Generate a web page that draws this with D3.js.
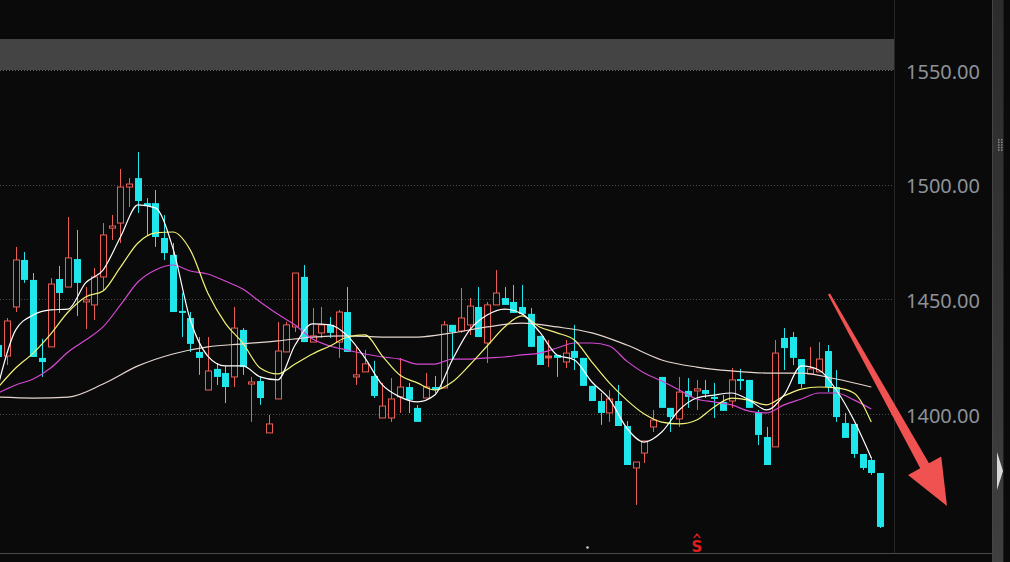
<!DOCTYPE html>
<html><head><meta charset="utf-8">
<script src="https://cdn.jsdelivr.net/npm/d3@7"></script>
<style>html,body{margin:0;padding:0;background:#0a0a0a;overflow:hidden}</style>
</head><body><svg id="c" width="1010" height="562"></svg>
<script>
// ---------- DATA ----------
const days = d3.range(1, 103).map(d => "D" + d);
const opens = [1430.5,1425.7,1447.1,1467.6,1458.9,1424.9,1429.7,1459.3,1455.8,1468.0,
 1449.3,1448.0,1460.2,1481.5,1483.7,1499.4,1503.3,1492.4,1492.4,1477.2,
 1469.8,1445.4,1442.3,1427.5,1410.9,1420.1,1418.3,1416.6,1437.1,1413.5,
 1414.8,1392.2,1407.0,1427.5,1438.4,1460.2,1431.8,1435.8,1439.3,1431.8,
 1444.9,1416.6,1418.8,1417.0,1398.7,1398.7,1407.9,1412.2,1403.1,1407.4,
 1412.2,1411.8,1439.3,1436.6,1439.3,1447.1,1431.4,1448.0,1451.0,1449.3,
 1447.1,1444.1,1434.5,1424.9,1426.2,1423.1,1427.9,1424.9,1412.7,1406.1,
 1400.9,1406.1,1395.2,1376.9,1383.4,1394.8,1416.6,1403.1,1398.3,1410.5,
 1410.5,1410.9,1407.9,1405.7,1406.1,1415.7,1415.3,1400.9,1390.4,1386.1,
 1433.6,1434.0,1424.4,1417.9,1418.8,1427.9,1412.2,1396.5,1396.1,1383.0,
 1380.4,1374.7];
const closes = [1425.3,1441.0,1467.6,1458.9,1425.3,1423.1,1457.1,1453.2,1468.5,1457.6,
 1450.2,1460.2,1478.5,1482.4,1499.4,1500.7,1493.3,1491.1,1477.6,1470.6,
 1444.9,1444.5,1431.0,1424.9,1419.2,1416.6,1412.2,1437.9,1420.9,1414.4,
 1407.4,1396.1,1427.9,1439.3,1461.9,1431.8,1434.5,1439.3,1435.8,1444.9,
 1427.5,1417.5,1422.3,1408.3,1403.9,1407.0,1412.2,1406.6,1397.0,1412.2,
 1410.9,1439.3,1436.2,1442.3,1447.5,1434.0,1448.0,1453.2,1448.0,1444.5,
 1444.1,1429.7,1421.8,1425.7,1424.9,1427.0,1424.9,1412.7,1406.1,1400.9,
 1407.0,1395.2,1378.2,1379.5,1388.7,1397.8,1403.1,1399.1,1410.0,1407.9,
 1411.4,1409.2,1407.0,1401.8,1415.3,1414.8,1403.1,1391.3,1378.2,1427.0,
 1429.2,1424.9,1413.5,1420.1,1424.4,1412.2,1399.1,1390.0,1383.0,1376.9,
 1374.7,1351.2];
const highs = [1432.7,1442.3,1473.3,1471.1,1461.9,1433.2,1459.7,1465.0,1486.3,1480.7,
 1455.8,1464.1,1483.7,1487.2,1507.3,1503.3,1514.7,1494.6,1498.1,1487.2,
 1475.0,1453.2,1444.9,1434.0,1434.0,1422.7,1421.4,1447.1,1437.9,1416.6,
 1416.6,1400.0,1440.6,1440.6,1461.9,1465.4,1446.7,1447.1,1442.7,1445.8,
 1455.8,1429.7,1428.4,1423.6,1414.0,1416.1,1424.9,1414.0,1404.4,1418.3,
 1417.0,1441.0,1439.3,1455.4,1451.0,1455.8,1449.3,1463.2,1455.8,1456.7,
 1456.7,1446.7,1434.5,1432.7,1426.2,1432.7,1439.3,1424.9,1412.7,1409.6,
 1410.9,1413.1,1397.4,1379.5,1388.7,1402.2,1416.6,1403.1,1416.6,1416.1,
 1415.3,1415.3,1414.0,1408.7,1420.5,1420.1,1415.3,1402.2,1394.8,1432.7,
 1437.9,1436.2,1424.4,1429.7,1431.8,1430.5,1419.6,1400.9,1396.1,1383.0,
 1381.7,1374.7];
const lows = [1423.1,1421.8,1444.9,1457.6,1425.3,1416.6,1429.7,1444.5,1455.8,1443.2,
 1437.5,1441.4,1454.5,1476.3,1475.0,1490.7,1488.1,1478.5,1473.3,1467.6,
 1444.9,1434.0,1427.5,1417.5,1410.9,1413.1,1405.2,1412.2,1417.5,1397.0,
 1404.4,1392.2,1407.0,1427.5,1436.2,1431.8,1431.8,1433.6,1433.6,1424.9,
 1427.5,1413.1,1418.8,1407.4,1398.7,1397.0,1400.9,1400.9,1397.0,1407.4,
 1409.6,1411.8,1424.0,1435.8,1434.9,1434.0,1422.7,1448.0,1448.0,1444.5,
 1444.1,1429.7,1421.8,1420.9,1416.6,1420.5,1419.6,1412.7,1406.1,1395.7,
 1397.0,1395.2,1378.2,1360.8,1379.1,1392.6,1403.1,1392.6,1394.8,1403.1,
 1402.2,1407.4,1398.7,1401.8,1403.1,1410.9,1403.1,1386.9,1378.2,1386.1,
 1419.6,1421.8,1411.8,1417.9,1418.8,1410.0,1397.0,1390.0,1381.3,1376.0,
 1373.9,1350.7];

// moving-average lines (every 2nd day; MA60 every 4th day)
const ma5 = [1413.1,1437.1,1443.6,1445.8,1446.2,1457.6,1463.2,1477.6,1491.6,1490.3,
 1472.8,1441.4,1425.7,1421.4,1421.4,1416.6,1415.3,1430.5,1439.7,1439.3,
 1434.5,1424.9,1413.1,1407.9,1405.7,1408.7,1424.0,1437.1,1443.6,1446.2,
 1444.1,1436.2,1426.2,1424.0,1414.4,1407.0,1394.3,1388.2,1392.6,1402.2,
 1407.4,1408.7,1409.6,1406.6,1402.2,1408.7,1421.4,1419.6,1410.9,1397.8,1381.3];
const ma10 = [1412.2,1420.5,1427.0,1435.3,1444.9,1451.5,1454.1,1464.5,1475.0,1479.4,
 1479.8,1471.9,1453.2,1440.1,1431.4,1420.5,1417.9,1422.2,1426.6,1430.1,
 1434.0,1434.9,1425.7,1417.4,1414.0,1410.9,1414.4,1421.8,1430.1,1438.4,
 1443.2,1438.4,1435.8,1432.7,1423.1,1414.0,1406.5,1400.4,1396.9,1396.1,
 1397.8,1403.5,1407.4,1406.5,1404.4,1408.3,1411.3,1412.2,1411.8,1409.6,1396.9];
const ma20 = [1409.6,1413.1,1415.7,1420.5,1427.5,1432.7,1438.4,1448.0,1458.0,1463.2,
 1465.4,1462.8,1461.5,1458.4,1454.9,1449.3,1444.0,1439.2,1433.1,1430.1,
 1428.3,1426.6,1425.3,1424.4,1422.2,1422.2,1424.4,1424.4,1424.9,1425.3,
 1426.2,1427.0,1429.2,1431.4,1431.4,1430.1,1423.5,1418.3,1414.8,1410.9,
 1407.0,1405.7,1404.4,1401.7,1400.9,1404.4,1407.0,1409.6,1409.6,1406.6,1402.6];
const ma60 = [1407.8,1407.4,1407.8,1413.5,1421.4,1426.6,1429.7,1431.0,1432.3,1434.0,
 1434.5,1434.0,1434.0,1435.8,1438.4,1440.1,1438.4,1435.8,1430.5,1424.0,
 1420.9,1419.2,1418.3,1418.3,1415.7,1412.2];
const priceTicks = [1400, 1450, 1500, 1550];

// ---------- DRAW ----------
const svg = d3.select("#c");
const W = 1010, H = 562, plotR = 894;
svg.append("rect").attr("width", W).attr("height", H).attr("fill", "#0a0a0a");

const x = d3.scalePoint().domain(days).range([-1.73, 880]);
const y = d3.scaleLinear().domain([1400, 1550]).range([415, 71]);

// top grey band
svg.append("rect").attr("x", 0).attr("y", 39).attr("width", plotR).attr("height", 31).attr("fill", "#444444");

// grid
svg.append("g").selectAll("line").data(priceTicks).join("line")
  .attr("x1", 0).attr("x2", plotR)
  .attr("y1", d => Math.round(y(d)) - 0.5).attr("y2", d => Math.round(y(d)) - 0.5)
  .attr("stroke", d => d === 1550 ? "#6a6a6a" : "#4a4a4a")
  .attr("stroke-dasharray", "1,2");

svg.append("defs").append("clipPath").attr("id", "clip")
  .append("rect").attr("x", 0).attr("y", 0).attr("width", plotR).attr("height", 552);
const plot = svg.append("g").attr("clip-path", "url(#clip)");

const candles = days.map((d, i) => ({d, o: opens[i], c: closes[i], h: highs[i], l: lows[i]}));
const RED = "#ec5e55", CYAN = "#1ee6ea";
const cg = plot.append("g");
candles.forEach(k => {
  const cx = Math.round(x(k.d));
  const up = k.c >= k.o;
  const yt = y(Math.max(k.o, k.c)), yb = y(Math.min(k.o, k.c));
  const col = up ? RED : CYAN;
  if (up) {
    cg.append("line").attr("x1", cx + 0.5).attr("x2", cx + 0.5).attr("y1", y(k.h)).attr("y2", yt).attr("stroke", col);
    cg.append("line").attr("x1", cx + 0.5).attr("x2", cx + 0.5).attr("y1", yb).attr("y2", y(k.l)).attr("stroke", col);
    if (yb - yt < 2) {
      cg.append("rect").attr("x", cx - 3).attr("y", yt - 0.5).attr("width", 7).attr("height", Math.max(1.5, yb - yt + 1)).attr("fill", col);
    } else {
      cg.append("rect").attr("x", cx - 2.5).attr("y", yt).attr("width", 6).attr("height", yb - yt)
        .attr("fill", "#0a0a0a").attr("stroke", col).attr("stroke-width", 1);
    }
  } else {
    cg.append("line").attr("x1", cx + 0.5).attr("x2", cx + 0.5).attr("y1", y(k.h)).attr("y2", y(k.l)).attr("stroke", col);
    cg.append("rect").attr("x", cx - 3).attr("y", yt).attr("width", 7).attr("height", Math.max(1.5, yb - yt)).attr("fill", col);
  }
});

// moving averages
const every2 = d3.range(0, 101, 2), every4 = d3.range(0, 101, 4);
const lineGen = d3.line().x(d => x(days[d[0]])).y(d => y(d[1])).curve(d3.curveMonotoneX);
const maDefs = [
  {vals: ma60, idx: every4, color: "#e6d6cf"},
  {vals: ma20, idx: every2, color: "#d448d2"},
  {vals: ma10, idx: every2, color: "#f2f27a"},
  {vals: ma5, idx: every2, color: "#ffffff"}
];
maDefs.forEach(m => {
  plot.append("path").datum(m.idx.map((ix, j) => [ix, m.vals[j]]))
    .attr("d", lineGen).attr("fill", "none").attr("stroke", m.color).attr("stroke-width", 1.2);
});

// separators / frame
svg.append("line").attr("x1", plotR + 0.5).attr("x2", plotR + 0.5).attr("y1", 0).attr("y2", 553).attr("stroke", "#262626");
svg.append("line").attr("x1", 0).attr("x2", 993).attr("y1", 553.5).attr("y2", 553.5).attr("stroke", "#4a4a4a");
const grad = svg.append("defs").append("linearGradient").attr("id", "sb").attr("x1", 0).attr("x2", 0).attr("y1", 0).attr("y2", 1);
grad.append("stop").attr("offset", "0").attr("stop-color", "#2c2c2c");
grad.append("stop").attr("offset", "0.5").attr("stop-color", "#353535");
grad.append("stop").attr("offset", "1").attr("stop-color", "#3f3f3f");
svg.append("rect").attr("x", 993).attr("y", 0).attr("width", 10).attr("height", H).attr("fill", "url(#sb)");
svg.append("line").attr("x1", 992.5).attr("x2", 992.5).attr("y1", 0).attr("y2", H).attr("stroke", "#444");
svg.append("line").attr("x1", 1003.5).attr("x2", 1003.5).attr("y1", 0).attr("y2", H).attr("stroke", "#1e1e1e");
// grip dots
[0, 1, 2, 3, 4].forEach(r => [0, 1].forEach(c => {
  svg.append("rect").attr("x", 998 + c * 3).attr("y", 139 + r * 2.6).attr("width", 1.5).attr("height", 1.5).attr("fill", "#8a8a8a");
}));
svg.append("path").attr("d", "M997,452 L1003,471 L997,490 Z").attr("fill", "#d8d8d8");

// right axis
const axis = svg.append("g").attr("transform", "translate(906,0)")
  .call(d3.axisRight(y).tickValues(priceTicks).tickFormat(d3.format(".2f")).tickSize(0).tickPadding(0));
axis.select(".domain").remove();
axis.selectAll("text").attr("fill", "#8d9299").attr("font-size", "20px")
  .attr("font-family", "'Noto Sans', 'Open Sans', sans-serif").attr("dy", "0.35em");

// arrow annotation
const ax0 = 829, ay0 = 294, tipX = 947, tipY = 506;
const dx = tipX - ax0, dy = tipY - ay0, len = Math.hypot(dx, dy);
const ux = dx / len, uy = dy / len, nx = -uy, ny = ux;
const hl = 46, hw = 19;
const bx = tipX - hl * ux, by = tipY - hl * uy;
const pts = [
  [ax0 + nx * 1.2, ay0 + ny * 1.2], [bx + nx * 5, by + ny * 5], [bx + nx * hw, by + ny * hw],
  [tipX, tipY], [bx - nx * hw, by - ny * hw], [bx - nx * 5, by - ny * 5], [ax0 - nx * 1.2, ay0 - ny * 1.2]
];
svg.append("path").attr("d", "M" + pts.map(p => p.join(",")).join("L") + "Z").attr("fill", "#f05252");

// bottom marks
svg.append("path").attr("d", "M693,538 L697,533 L701,538 L699.5,538 L697,535.5 L694.5,538Z").attr("fill", "#e01e1e");
svg.append("text").attr("x", 697).attr("y", 552).attr("text-anchor", "middle").attr("fill", "#e01e1e")
  .attr("font-size", "15px").attr("font-weight", "bold").attr("font-family", "'DejaVu Sans', sans-serif").text("S");
svg.append("circle").attr("cx", 587.5).attr("cy", 547.5).attr("r", 1.3).attr("fill", "#cccccc");
</script></body></html>
